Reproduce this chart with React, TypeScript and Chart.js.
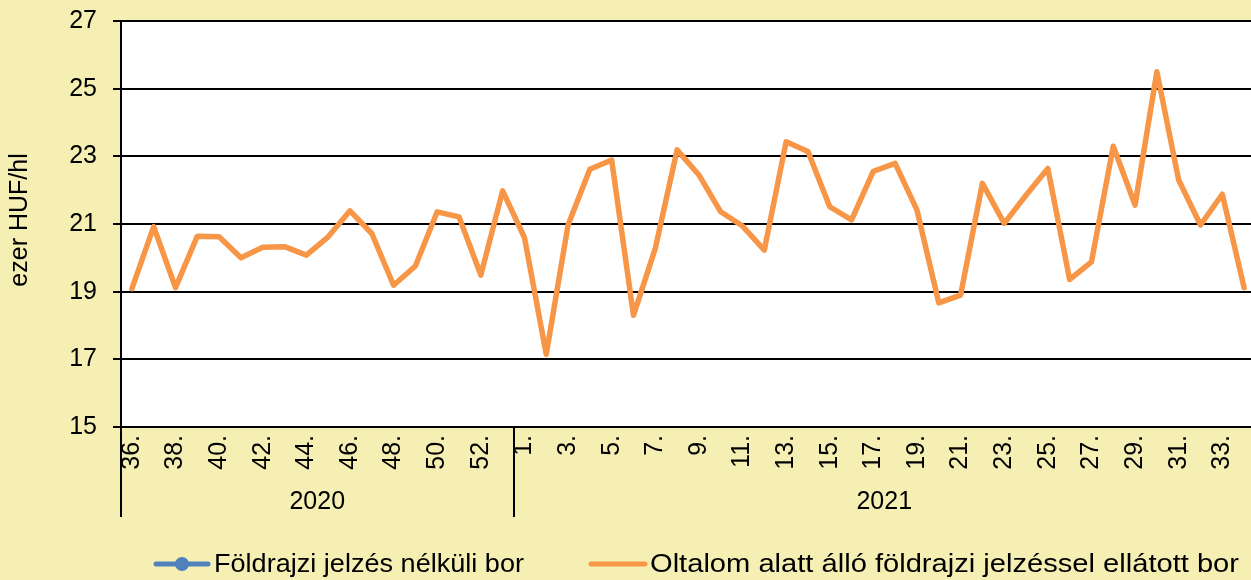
import { useEffect, useRef } from "react";
import { Chart, registerables } from "chart.js";

Chart.register(...registerables);

// ---- data ----
const weeks2020 = ["36.", "37.", "38.", "39.", "40.", "41.", "42.", "43.", "44.", "45.", "46.", "47.", "48.", "49.", "50.", "51.", "52.", "53."];
const weeks2021 = ["1.", "2.", "3.", "4.", "5.", "6.", "7.", "8.", "9.", "10.", "11.", "12.", "13.", "14.", "15.", "16.", "17.", "18.", "19.", "20.", "21.", "22.", "23.", "24.", "25.", "26.", "27.", "28.", "29.", "30.", "31.", "32.", "33.", "34."];
const years = ["2020", "2021"];
const seriesNames = ["Földrajzi jelzés nélküli bor", "Oltalom alatt álló földrajzi jelzéssel ellátott bor"];
const yAxisTitle = "ezer HUF/hl";
const yMin = 15;
const yMax = 27;
const yStep = 2;

const protected2020 = [19.09, 20.92, 19.12, 20.64, 20.62, 20.0, 20.31, 20.33, 20.08, 20.62, 21.39, 20.72, 19.19, 19.76, 21.36, 21.21, 19.49, 21.98];
const protected2021 = [20.6, 17.15, 20.97, 22.62, 22.89, 18.3, 20.28, 23.19, 22.45, 21.36, 20.94, 20.23, 23.43, 23.14, 21.51, 21.12, 22.56, 22.79, 21.41, 18.67, 18.9, 22.2, 21.02, 21.85, 22.64, 19.36, 19.88, 23.3, 21.56, 25.5, 22.3, 20.97, 21.88, 19.12];
// the first series is not visible in the picture (only in the legend)
const noGeoValues: (number | null)[] = [];

const colors = ["#4F81BD", "#F79646"];
const BG = "#F5EFB4";
const FONT = "'Liberation Sans', Arial, sans-serif";

export default function App() {
  const ref = useRef<HTMLCanvasElement | null>(null);

  useEffect(() => {
    document.body.style.margin = "0";
    document.body.style.background = BG;
    const labels = [...weeks2020, ...weeks2021];
    const protectedValues = [...protected2020, ...protected2021];
    const blue = labels.map((_, i) => (noGeoValues[i] === undefined ? null : noGeoValues[i]));

    const fitText = (ctx: CanvasRenderingContext2D, text: string, x: number, y: number, width: number) => {
      const w = ctx.measureText(text).width;
      ctx.save();
      ctx.translate(x, y);
      ctx.scale(width / w, 1);
      ctx.fillText(text, 0, 0);
      ctx.restore();
    };

    const decor = {
      id: "decor",
      beforeDraw(chart: any) {
        const { ctx, chartArea } = chart;
        ctx.save();
        ctx.fillStyle = "#ffffff";
        ctx.fillRect(chartArea.left, chartArea.top, chartArea.right - chartArea.left, chartArea.bottom - chartArea.top);
        ctx.restore();
      },
      afterDraw(chart: any) {
        const { ctx, chartArea } = chart;
        const x = chart.scales.x;
        const half = (x.getPixelForValue(1) - x.getPixelForValue(0)) / 2;
        const n2020 = weeks2020.length;
        const boundary = x.getPixelForValue(n2020 - 1) + half;
        const endRight = x.getPixelForValue(labels.length - 1) + half;
        ctx.save();
        // group separators
        ctx.strokeStyle = "#000";
        ctx.lineWidth = 2;
        [chartArea.left, boundary].forEach((px) => {
          ctx.beginPath();
          ctx.moveTo(Math.round(px), chartArea.bottom);
          ctx.lineTo(Math.round(px), 517);
          ctx.stroke();
        });
        // year labels
        ctx.fillStyle = "#000";
        ctx.font = `25px ${FONT}`;
        ctx.textAlign = "center";
        ctx.textBaseline = "alphabetic";
        ctx.fillText(years[0], (chartArea.left + boundary) / 2, 509);
        ctx.fillText(years[1], (boundary + endRight) / 2, 509);
        // y title
        ctx.save();
        ctx.translate(27, (chartArea.top + chartArea.bottom) / 2 - 4);
        ctx.rotate(-Math.PI / 2);
        ctx.textAlign = "center";
        ctx.textBaseline = "alphabetic";
        ctx.fillText(yAxisTitle, 0, 0);
        ctx.restore();
        // legend
        const ly = 564;
        ctx.lineWidth = 5;
        ctx.lineCap = "round";
        ctx.strokeStyle = colors[0];
        ctx.beginPath();
        ctx.moveTo(156, ly);
        ctx.lineTo(208, ly);
        ctx.stroke();
        ctx.fillStyle = colors[0];
        ctx.beginPath();
        ctx.arc(182, ly, 7, 0, Math.PI * 2);
        ctx.fill();
        ctx.strokeStyle = colors[1];
        ctx.beginPath();
        ctx.moveTo(591, ly);
        ctx.lineTo(645, ly);
        ctx.stroke();
        ctx.fillStyle = "#000";
        ctx.textAlign = "left";
        ctx.font = `26px ${FONT}`;
        fitText(ctx, seriesNames[0], 214, 572, 310);
        fitText(ctx, seriesNames[1], 650, 572, 589);
        ctx.restore();
      },
    };

    const chart = new Chart(ref.current as HTMLCanvasElement, {
      type: "line",
      data: {
        labels,
        datasets: [
          {
            label: seriesNames[0],
            data: blue,
            borderColor: colors[0],
            backgroundColor: colors[0],
            borderWidth: 5,
            pointRadius: 0,
          },
          {
            label: seriesNames[1],
            data: protectedValues,
            borderColor: colors[1],
            backgroundColor: colors[1],
            borderWidth: 5.5,
            borderJoinStyle: "round",
            borderCapStyle: "round",
            pointRadius: 0,
            tension: 0,
          },
        ],
      },
      options: {
        animation: false,
        responsive: false,
        maintainAspectRatio: false,
        layout: { padding: { top: 21, right: 1, left: 0, bottom: 0 } },
        plugins: { legend: { display: false }, tooltip: { enabled: false } },
        scales: {
          x: {
            type: "category",
            offset: true,
            grid: { display: false },
            border: { display: false },
            ticks: {
              autoSkip: false,
              maxRotation: 90,
              minRotation: 90,
              padding: 0,
              color: "#000",
              font: { size: 25, family: FONT },
              callback: (_v: any, i: number) => (i % 2 === 0 ? labels[i] : ""),
            },
            afterFit: (s: any) => {
              s.height = 153;
              s.paddingLeft = 0;
              s.paddingRight = 0;
            },
          },
          y: {
            min: yMin,
            max: yMax,
            grid: { color: "#000", lineWidth: 2, tickLength: 8, drawTicks: true },
            border: { display: true, color: "#000", width: 2 },
            ticks: {
              stepSize: yStep,
              padding: 16,
              color: "#000",
              font: { size: 25, family: FONT },
            },
            afterFit: (s: any) => {
              s.width = 121;
              s.paddingTop = 0;
              s.paddingBottom = 0;
            },
          },
        },
      },
      plugins: [decor],
    });
    return () => chart.destroy();
  }, []);

  return (
    <div style={{ width: 1251, height: 580, overflow: "hidden", background: BG, position: "relative" }}>
      <canvas ref={ref} width={1256} height={580} style={{ display: "block" }} />
    </div>
  );
}
